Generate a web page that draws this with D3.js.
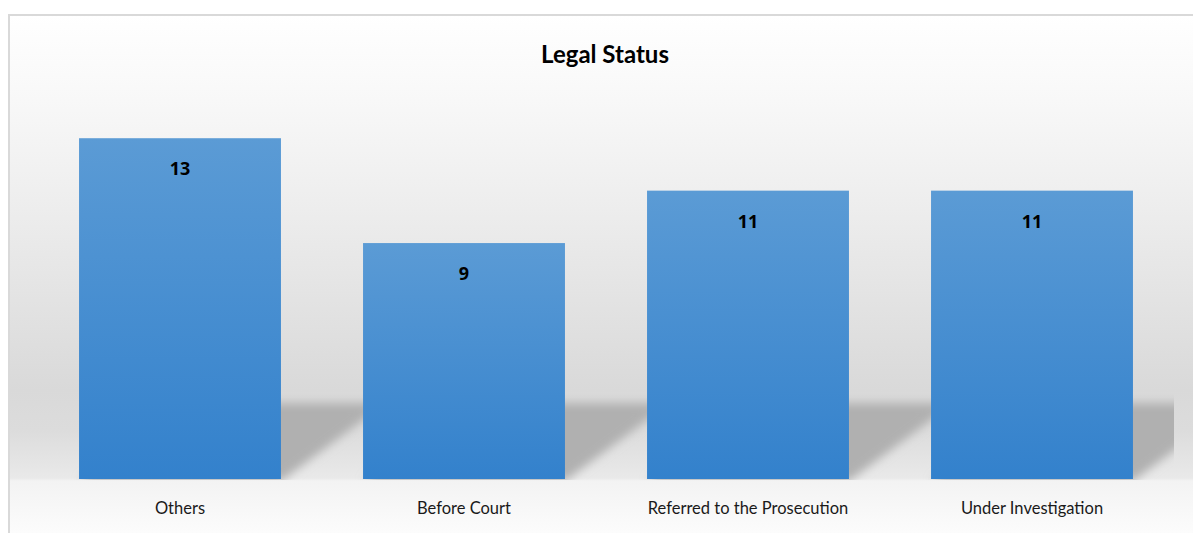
<!DOCTYPE html>
<html>
<head>
<meta charset="utf-8">
<script src="https://cdn.jsdelivr.net/npm/d3@7"></script>
<style>
  html, body { margin: 0; padding: 0; background: #fff; overflow: hidden; }
</style>
</head>
<body>
<div id="chart"></div>
<script>
const chart_width = 1193;
const chart_height = 533;

// values
const categories = ["Others", "Before Court", "Referred to the Prosecution", "Under Investigation"];
const values = [13, 9, 11, 11];
const title_text = "Legal Status";

const plot_left = 38, plot_right = 1174;
const base_y = 479, axis_top = 112;

const svg = d3.select("#chart")
    .append("svg")
    .attr("width", chart_width)
    .attr("height", chart_height);

const defs = svg.append("defs");

// chart area background: white -> grey around the floor -> white
const bg = defs.append("linearGradient")
    .attr("id", "bgGrad")
    .attr("gradientUnits", "userSpaceOnUse")
    .attr("x1", 0).attr("x2", 0)
    .attr("y1", 15).attr("y2", 533);
[[15, "#ffffff"], [100, "#f8f8f8"], [200, "#eeeeee"], [300, "#e3e3e3"], [390, "#d9d9d9"],
 [430, "#dcdcdc"], [478, "#e9e9e9"], [481, "#f3f3f3"], [533, "#fcfcfc"]]
    .forEach(s => bg.append("stop")
        .attr("offset", (s[0] - 15) / (533 - 15))
        .attr("stop-color", s[1]));

const barGrad = defs.append("linearGradient")
    .attr("id", "barGrad")
    .attr("x1", 0).attr("x2", 0)
    .attr("y1", 0).attr("y2", 1);
barGrad.append("stop").attr("offset", 0).attr("stop-color", "#5b9bd5");
barGrad.append("stop").attr("offset", 1).attr("stop-color", "#3381cc");

defs.append("filter")
    .attr("id", "shadowBlur")
    .attr("x", "-20%").attr("y", "-30%")
    .attr("width", "140%").attr("height", "160%")
    .append("feGaussianBlur")
    .attr("stdDeviation", 5);

defs.append("clipPath")
    .attr("id", "plotClip")
    .append("rect")
    .attr("x", plot_left - 2)
    .attr("y", 0)
    .attr("width", plot_right - plot_left + 2)
    .attr("height", base_y + 1);

// frame (right and bottom edges fall outside the window)
svg.append("rect")
    .attr("x", 9)
    .attr("y", 15)
    .attr("width", 1196)
    .attr("height", 540)
    .attr("fill", "url(#bgGrad)")
    .attr("stroke", "#d9d9d9")
    .attr("stroke-width", 2);

const x = d3.scaleBand()
    .domain(categories)
    .range([plot_left, plot_right])
    .paddingInner(0.289)
    .paddingOuter(0.1445);

const y = d3.scaleLinear()
    .domain([0, 14])
    .range([base_y, axis_top]);

const data = categories.map((c, i) => ({ cat: c, value: values[i] }));

// perspective shadows on the floor behind each bar
const shadow_h = 78, shadow_dx = 105;
svg.append("g")
    .attr("clip-path", "url(#plotClip)")
    .selectAll(".shadow")
    .data(data)
    .join("polygon")
    .attr("class", "shadow")
    .attr("points", d => {
        const x0 = x(d.cat), x1 = x(d.cat) + x.bandwidth(), y0 = y(0) + 2;
        return [[x0, y0], [x1, y0], [x1 + shadow_dx, y0 - shadow_h], [x0 + shadow_dx, y0 - shadow_h]].join(" ");
    })
    .attr("fill", "#b0b0b0")
    .attr("filter", "url(#shadowBlur)");

svg.selectAll(".bar")
    .data(data)
    .join("rect")
    .attr("class", "bar")
    .attr("x", d => x(d.cat))
    .attr("y", d => y(d.value))
    .attr("width", x.bandwidth())
    .attr("height", d => y(0) - y(d.value))
    .attr("fill", "url(#barGrad)");

svg.selectAll(".val")
    .data(data)
    .join("text")
    .attr("class", "val")
    .attr("x", d => x(d.cat) + x.bandwidth() / 2)
    .attr("y", d => y(d.value) + 37)
    .attr("text-anchor", "middle")
    .style("font-family", "'Open Sans', sans-serif")
    .style("font-weight", "700")
    .style("font-size", "18px")
    .style("fill", "#000")
    .text(d => d.value);

// category axis labels
svg.append("g")
    .attr("transform", `translate(0,${base_y})`)
    .call(d3.axisBottom(x).tickSize(0).tickPadding(0))
    .call(g => g.select(".domain").remove())
    .call(g => g.selectAll("text")
        .attr("dy", 0)
        .attr("y", 35)
        .style("font-family", "Lato, sans-serif")
        .style("font-size", "16.5px")
        .style("fill", "#1a1a1a"));

svg.append("text")
    .attr("x", 605)
    .attr("y", 63)
    .attr("text-anchor", "middle")
    .style("font-family", "Lato, sans-serif")
    .style("font-weight", "700")
    .style("font-size", "24px")
    .style("fill", "#000")
    .text(title_text);
</script>
</body>
</html>
